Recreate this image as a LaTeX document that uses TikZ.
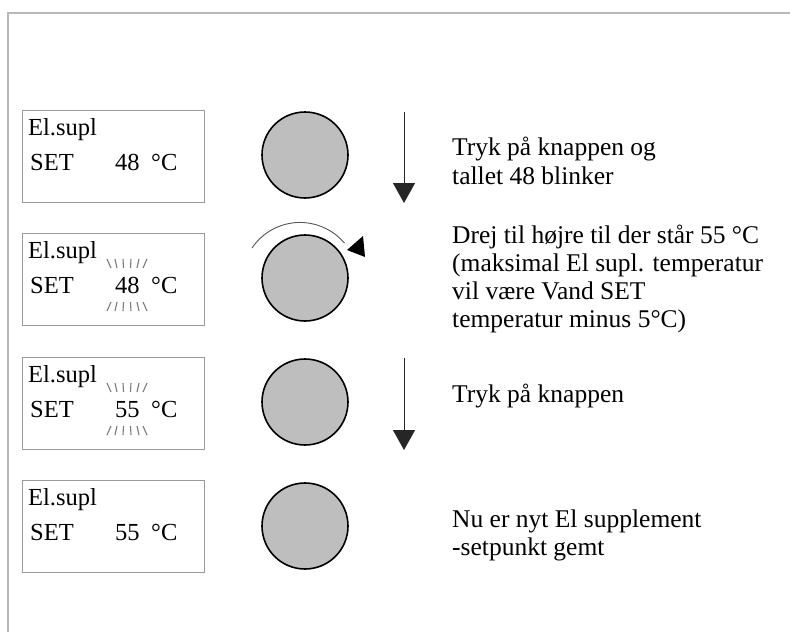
\documentclass[tikz,border=0pt]{standalone}
\usepackage{fontspec}
\setmainfont{Liberation Serif}
\usetikzlibrary{arrows.meta}
\definecolor{framegray}{HTML}{B8B8B8}
\definecolor{boxgray}{HTML}{9A9A9A}
\definecolor{knobgray}{HTML}{BEBEBE}
\definecolor{raygray}{HTML}{7A7A7A}
\definecolor{arcgray}{HTML}{555555}
\newcommand\blinkrays[1]{%
  \begin{scope}[shift={#1}]
    \foreach \a/\b in {-20/-16,-12/-10,-4/-3.5,4/3.5,12/10,20/16}{
      \draw[ray] (\a,-26) -- (\b,-17);
      \draw[ray] (\b,17) -- (\a,26);
    }
  \end{scope}}
\begin{document}
\begin{tikzpicture}[x=1pt,y=-1pt,
  disp/.style={draw=boxgray, line width=1pt, anchor=north west, minimum width=182pt, minimum height=92pt, inner sep=0pt},
  knob/.style={circle, draw=black, line width=1.6pt, fill=knobgray, minimum size=86pt, inner sep=0pt},
  lbl/.style={anchor=base west, inner sep=0pt, font=\fontsize{24.5}{29}\selectfont},
  txt/.style={anchor=base west, inner sep=0pt, font=\fontsize{25.5}{29}\selectfont},
  push/.style={line width=0.9pt, draw=black!85, -{Triangle[width=22pt,length=20pt]}},
  rot/.style={line width=0.9pt, draw=arcgray},
  ray/.style={draw=raygray, line width=1.1pt},
  frame/.style={draw=framegray, line width=1.2pt}]
\useasboundingbox (0,0) rectangle (790,632);
\fill[white] (0,0) rectangle (790,632);
% outer frame
\coordinate (fbl) at (8,640);
\coordinate (ftl) at (8,13);
\coordinate (ftr) at (800,13);
\draw[frame] (fbl) -- (ftl) -- (ftr);
% displays
\foreach \i/\t/\n in {1/110/48,2/233/48,3/357/55,4/480/55}{
  \node[disp] (d\i) at (22,\t) {};
  \node[lbl] (e\i) at (28,\t+25) {El.supl};
  \node[lbl] (s\i) at (30,\t+60) {SET};
  \node[lbl] (n\i) at (115,\t+60) {\n};
  \node[lbl] (c\i) at (151,\t+60) {°C};
}
\blinkrays{(127,285)}
\blinkrays{(127,409)}
% knobs
\node[knob] (k1) at (305,155) {};
\node[knob] (k2) at (305,278) {};
\node[knob] (k3) at (305,402) {};
\node[knob] (k4) at (305,526) {};
% push arrows
\coordinate (p1s) at (404,112);
\coordinate (p1e) at (404,203);
\draw[push] (p1s) -- (p1e);
\coordinate (p3s) at (404,358);
\coordinate (p3e) at (404,450);
\draw[push] (p3s) -- (p3e);
% rotation arrow
\coordinate (r0) at (252,248);
\draw[rot] (r0) arc[start angle=-146, end angle=-40, radius=58];
\coordinate (rt) at (347,250);
\coordinate (rb1) at (363,236);
\coordinate (rb2) at (365,257);
\fill[black] (rt) -- (rb1) -- (rb2) -- cycle;
% texts
\node[txt] (t1a) at (452,155) {Tryk på knappen og};
\node[txt] (t1b) at (452,184) {tallet 48 blinker};
\node[txt] (t2a) at (452,243) {Drej til højre til der står 55 °C};
\node[txt] (t2b) at (452,271) {(maksimal El supl. temperatur};
\node[txt] (t2c) at (452,299) {vil være Vand SET};
\node[txt] (t2d) at (452,327) {temperatur minus 5°C)};
\node[txt] (t3a) at (452,402) {Tryk på knappen};
\node[txt] (t4a) at (452,527) {Nu er nyt El supplement};
\node[txt] (t4b) at (452,555) {-setpunkt gemt};
\end{tikzpicture}
\end{document}
